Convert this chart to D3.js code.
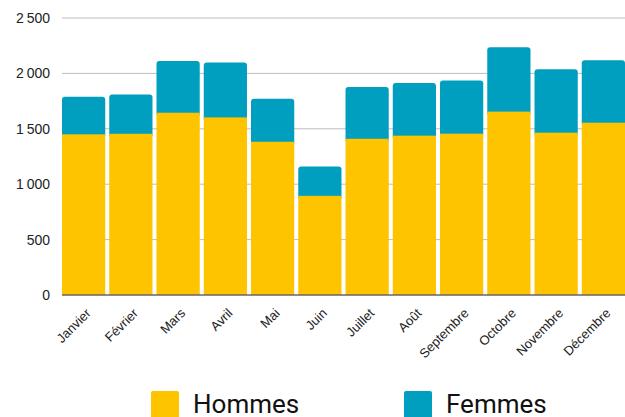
<!DOCTYPE html>
<html>
<head>
<meta charset="utf-8">
<script src="https://cdn.jsdelivr.net/npm/d3@7"></script>
<style>
  body { margin: 0; background: #fff; }
  svg { display: block; }
  .tick-label { font-family: "Liberation Sans", Arial, sans-serif; fill: #222; }
  .legend-label { font-family: Roboto, sans-serif; fill: #111; }
</style>
</head>
<body>
<div id="chart"></div>
<script>
// data
var months = ["Janvier", "Février", "Mars", "Avril", "Mai", "Juin", "Juillet", "Août", "Septembre", "Octobre", "Novembre", "Décembre"];
var hommes = [1450, 1455, 1645, 1603, 1383, 895, 1410, 1438, 1456, 1655, 1465, 1555];
var femmes = [340, 355, 468, 495, 389, 265, 468, 476, 479, 581, 572, 564];
var yTicks = [0, 500, 1000, 1500, 2000, 2500];
var seriesNames = ["Hommes", "Femmes"];
var colors = ["#fec400", "#019fbf"];

var width = 625, height = 417;
var margin = {top: 18, right: 0, bottom: 122, left: 62};

var svg = d3.select("#chart")
  .append("svg")
  .attr("width", width)
  .attr("height", height);

var x = d3.scaleBand()
  .domain(months)
  .range([margin.left, width])
  .paddingInner(0.085)
  .paddingOuter(0);

var y = d3.scaleLinear()
  .domain([0, 2500])
  .range([height - margin.bottom, margin.top]);

var fr = d3.formatLocale({decimal: ",", thousands: "\u202f", grouping: [3], currency: ["", " €"]});
var fmt = fr.format(",d");

// grid lines
svg.append("g")
  .selectAll("line")
  .data(yTicks.filter(function(d) { return d > 0; }))
  .enter()
  .append("line")
  .attr("x1", margin.left)
  .attr("x2", width)
  .attr("y1", function(d) { return y(d); })
  .attr("y2", function(d) { return y(d); })
  .attr("stroke", "#bdbdbd")
  .attr("stroke-width", 1);

// y labels
svg.append("g")
  .selectAll("text")
  .data(yTicks)
  .enter()
  .append("text")
  .attr("class", "tick-label")
  .attr("x", margin.left - 12)
  .attr("y", function(d) { return y(d); })
  .attr("dy", "0.36em")
  .attr("text-anchor", "end")
  .style("font-size", "14px")
  .text(function(d) { return fmt(d); });

// bars
var bars = svg.append("g")
  .selectAll("g")
  .data(months)
  .enter()
  .append("g");

bars.append("rect")
  .attr("x", function(d) { return x(d); })
  .attr("width", x.bandwidth())
  .attr("y", function(d, i) { return y(hommes[i] + femmes[i]); })
  .attr("height", function(d, i) { return y(hommes[i]) - y(hommes[i] + femmes[i]) + 4; })
  .attr("rx", 3)
  .attr("fill", colors[1]);

bars.append("rect")
  .attr("x", function(d) { return x(d); })
  .attr("width", x.bandwidth())
  .attr("y", function(d, i) { return y(hommes[i]); })
  .attr("height", function(d, i) { return y(0) - y(hommes[i]); })
  .attr("fill", colors[0]);

// baseline
svg.append("line")
  .attr("x1", margin.left)
  .attr("x2", width)
  .attr("y1", y(0))
  .attr("y2", y(0))
  .attr("stroke", "#666")
  .attr("stroke-width", 1.3);

// x labels
svg.append("g")
  .selectAll("text")
  .data(months)
  .enter()
  .append("text")
  .attr("class", "tick-label")
  .attr("text-anchor", "end")
  .style("font-size", "13px")
  .attr("transform", function(d) {
    return "translate(" + (x(d) + x.bandwidth() / 2 + 8) + "," + (y(0) + 19) + ") rotate(-45)";
  })
  .text(function(d) { return d; });

// legend
var legendX = [151, 404];
var legend = svg.append("g")
  .selectAll("g")
  .data(seriesNames)
  .enter()
  .append("g")
  .attr("transform", function(d, i) { return "translate(" + legendX[i] + ",391)"; });

legend.append("rect")
  .attr("width", 28)
  .attr("height", 28)
  .attr("rx", 2)
  .attr("fill", function(d, i) { return colors[i]; });

legend.append("text")
  .attr("class", "legend-label")
  .attr("x", 42)
  .attr("y", 22)
  .style("font-size", "26px")
  .text(function(d) { return d; });
</script>
</body>
</html>
